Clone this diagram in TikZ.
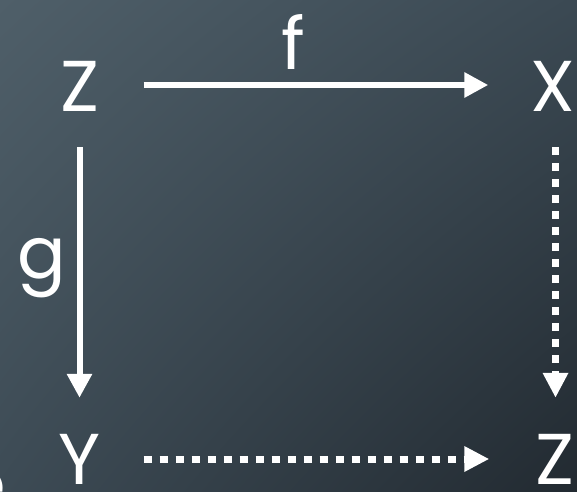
\documentclass[tikz,border=0pt]{standalone}
\usepackage{fontspec}
\setmainfont{Poppins}
\usetikzlibrary{arrows.meta,shadings}
\definecolor{bgUL}{HTML}{4F5F69}
\definecolor{bgUR}{HTML}{3B4953}
\definecolor{bgLL}{HTML}{3D4B55}
\definecolor{bgLR}{HTML}{222A31}
\tikzset{
  obj/.style={text=white, font=\fontsize{72}{80}\selectfont, inner sep=0pt,
    minimum width=128pt, minimum height=122pt},
  lbl/.style={text=white, font=\fontsize{72}{80}\selectfont, inner sep=0pt},
  solidarrow/.style={draw=white, line width=6pt,
    -{Triangle[length=24pt,width=24pt]}},
  dotarrow/.style={draw=white, line width=7pt, dash pattern=on 8pt off 8pt,
    -{Triangle[length=25pt,width=24pt]}}
}
\begin{document}
\begin{tikzpicture}[x=1pt,y=1pt]
\useasboundingbox (0,0) rectangle (577,491);
\shade[upper left=bgUL, upper right=bgUR, lower left=bgLL, lower right=bgLR]
  (0,0) rectangle (577,491);
\node[obj] (Z1) at (79.5,405) {Z};
\node[obj] (X)  at (552.5,405) {X};
\node[obj] (Y)  at (79.5,32) {Y};
\node[obj] (Z2) at (554.5,32) {Z};
\node[lbl, anchor=base] (f) at (293,421) {f};
\node[lbl, anchor=base] (g) at (42,213) {g};
\node[lbl, anchor=base east] (e) at (6,-18) {e};
\draw[solidarrow] ([yshift=1pt]Z1.east) -- ([yshift=1pt]X.west);
\draw[solidarrow] (Z1.south) -- (Y.north);
\draw[dotarrow] ([xshift=3pt]X.south) -- ([xshift=1pt]Z2.north);
\draw[dotarrow] ([xshift=0pt]Y.east) -- ([xshift=-1pt]Z2.west);
\end{tikzpicture}
\end{document}
